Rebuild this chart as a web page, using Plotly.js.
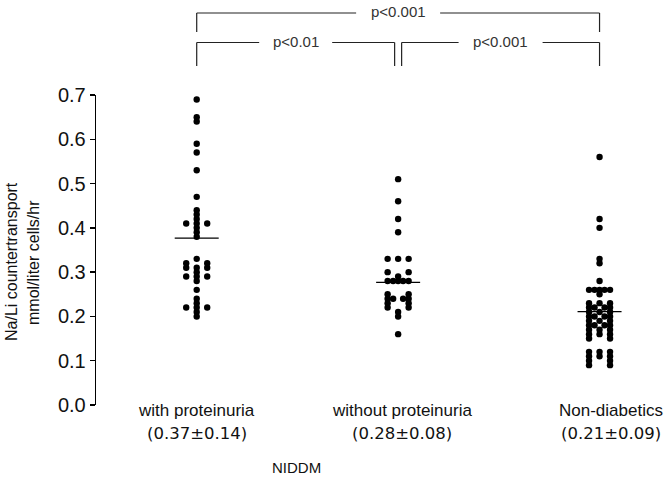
<!DOCTYPE html>
<html><head><meta charset="utf-8">
<script src="https://cdn.plot.ly/plotly-3.0.1.min.js"></script>
<style>html,body{margin:0;padding:0;background:#fff}</style>
</head><body>
<div id="chart" style="width:664px;height:480px"></div>
<script>
// ---------- data ----------
const groupNames = ['with proteinuria', 'without proteinuria', 'Non-diabetics'];
const groupSummaries = ['(0.37±0.14)', '(0.28±0.08)', '(0.21±0.09)'];
const withProteinuria = [0.69, 0.65, 0.64, 0.59, 0.57, 0.53, 0.47,
  0.44, 0.43, 0.42, 0.41, 0.41, 0.41, 0.40, 0.39, 0.38,
  0.33, 0.32, 0.32, 0.31, 0.31, 0.31, 0.30, 0.29, 0.29, 0.29, 0.28, 0.26,
  0.24, 0.23, 0.22, 0.22, 0.22, 0.21, 0.20];
const withoutProteinuria = [0.51, 0.46, 0.42, 0.39,
  0.33, 0.33, 0.33, 0.30, 0.30, 0.29, 0.28, 0.28, 0.28, 0.28, 0.28,
  0.25, 0.25, 0.24, 0.24, 0.24, 0.24, 0.23, 0.23, 0.22, 0.22,
  0.21, 0.20, 0.16];
const nonDiabetics = [0.56, 0.42, 0.40, 0.33, 0.32, 0.28,
  0.26, 0.26, 0.26, 0.26, 0.26, 0.25,
  0.23, 0.23, 0.23, 0.22, 0.22, 0.22, 0.22, 0.21, 0.21, 0.21,
  0.20, 0.20, 0.20, 0.20, 0.19, 0.19, 0.19, 0.18, 0.18, 0.18, 0.18,
  0.17, 0.17, 0.17, 0.16, 0.16, 0.16, 0.15, 0.15,
  0.12, 0.12, 0.12, 0.11, 0.11, 0.11, 0.10, 0.10, 0.09, 0.09];
const groupMeans = [0.377, 0.277, 0.211];
const yTickValues = [0, 0.1, 0.2, 0.3, 0.4, 0.5, 0.6, 0.7];
const compFrom = [0, 0, 1];
const compTo = [2, 1, 2];
const compLabels = ['p<0.001', 'p<0.01', 'p<0.001'];
const compTier = [0, 1, 1];

// ---------- layout geometry ----------
const W = 664, H = 480;
const M = {l: 96, r: 0, t: 95, b: 75};
const XR = [-0.5, 2.32], YR = [0, 0.7];
const plotW = W - M.l - M.r, plotH = H - M.t - M.b;
const pxPerX = plotW / (XR[1] - XR[0]);
const catPx = i => M.l + (i - XR[0]) * pxPerX;
const xPaper = px => (px - M.l) / plotW;
const yPaper = py => (H - M.b - py) / plotH;
const SLOTS = {1: [0], 2: [-10.5, 10.5], 3: [-10.5, 0, 10.5], 4: [-10.5, -5, 5, 10.5], 5: [-10.5, -5, 0, 5, 10.5]};
const FONT = 'Liberation Sans, Arial, sans-serif';

function spread(values, idx) {
  const counts = {}, seen = {};
  values.forEach(v => { const k = v.toFixed(2); counts[k] = (counts[k] || 0) + 1; });
  return values.map(v => {
    const k = v.toFixed(2), n = counts[k];
    const j = seen[k] = (seen[k] || 0) + 1;
    const slots = SLOTS[n] || Array.from({length: n}, (_, q) => (q - (n - 1) / 2) * 5);
    return idx + slots[j - 1] / pxPerX;
  });
}

const series = [withProteinuria, withoutProteinuria, nonDiabetics];
const traces = series.map((vals, i) => ({
  type: 'scatter', mode: 'markers',
  x: spread(vals, i), y: vals,
  marker: {size: 6.4, color: '#000'},
  cliponaxis: false, hoverinfo: 'y', showlegend: false
}));

const shapes = [];
// mean lines
groupMeans.forEach((m, i) => shapes.push({
  type: 'line', xref: 'x', yref: 'y',
  x0: i - 22 / pxPerX, x1: i + 22 / pxPerX, y0: m, y1: m,
  line: {color: '#000', width: 1.3}
}));

const annotations = [];
// significance brackets
const tierTop = [13, 42.5], tierDrop = [32, 66];
compFrom.forEach((a, k) => {
  const b = compTo[k], t = compTier[k];
  let xa = catPx(a), xb = catPx(b);
  if (t === 1 && a === 1) xa += 3.5;
  if (t === 1 && b === 1) xb -= 3.5;
  const yTop = tierTop[t], yBot = tierDrop[t];
  const mid = (xa + xb) / 2, gap = 5.5 * compLabels[k].length + 3.5;
  const ln = {color: '#222', width: 1.2};
  shapes.push({type: 'line', xref: 'paper', yref: 'paper', x0: xPaper(xa), x1: xPaper(xa), y0: yPaper(yTop), y1: yPaper(yBot), line: ln});
  shapes.push({type: 'line', xref: 'paper', yref: 'paper', x0: xPaper(xb), x1: xPaper(xb), y0: yPaper(yTop), y1: yPaper(yBot), line: ln});
  shapes.push({type: 'line', xref: 'paper', yref: 'paper', x0: xPaper(xa), x1: xPaper(mid - gap), y0: yPaper(yTop), y1: yPaper(yTop), line: ln});
  shapes.push({type: 'line', xref: 'paper', yref: 'paper', x0: xPaper(mid + gap), x1: xPaper(xb), y0: yPaper(yTop), y1: yPaper(yTop), line: ln});
  annotations.push({text: compLabels[k], xref: 'paper', yref: 'paper', x: xPaper(mid), y: yPaper(yTop - 1),
    xanchor: 'center', yanchor: 'middle', showarrow: false,
    font: {family: FONT, size: 15, color: '#333'}});
});

// group labels
const labelShift = [0, 4, 11];
groupNames.forEach((g, i) => {
  annotations.push({text: g, xref: 'x', yref: 'paper', x: i, xshift: labelShift[i], y: yPaper(410), xanchor: 'center', yanchor: 'middle',
    showarrow: false, font: {family: FONT, size: 17, color: '#111'}});
  annotations.push({text: groupSummaries[i], xref: 'x', yref: 'paper', x: i, xshift: labelShift[i], y: yPaper(433), xanchor: 'center', yanchor: 'middle',
    showarrow: false, font: {family: 'DejaVu Sans, sans-serif', size: 16.5, color: '#111'}});
});
annotations.push({text: 'NIDDM', xref: 'paper', yref: 'paper', x: xPaper(296), y: yPaper(467), xanchor: 'center', yanchor: 'middle',
  showarrow: false, font: {family: FONT, size: 15, color: '#111'}});
// y-axis title (two rotated lines)
annotations.push({text: 'Na/Li countertransport', xref: 'paper', yref: 'paper', x: xPaper(11), y: yPaper(262), xanchor: 'center', yanchor: 'middle',
  textangle: -90, showarrow: false, font: {family: FONT, size: 16, color: '#111'}});
annotations.push({text: 'mmol/liter cells/hr', xref: 'paper', yref: 'paper', x: xPaper(33), y: yPaper(263), xanchor: 'center', yanchor: 'middle',
  textangle: -90, showarrow: false, font: {family: FONT, size: 16, color: '#111'}});

const layout = {
  width: W, height: H, margin: M,
  paper_bgcolor: '#fff', plot_bgcolor: '#fff',
  xaxis: {range: XR, visible: false, showgrid: false, zeroline: false, fixedrange: true},
  yaxis: {range: YR, tickvals: yTickValues, tickformat: '.1f', ticks: 'outside', ticklen: 5, tickwidth: 1.3, tickcolor: '#000',
    showline: true, linecolor: '#000', linewidth: 1.3, showgrid: false, zeroline: false,
    tickfont: {family: FONT, size: 20, color: '#111'}},
  shapes: shapes, annotations: annotations, showlegend: false
};
Plotly.newPlot('chart', traces, layout, {displayModeBar: false, staticPlot: true});
</script>
</body></html>
